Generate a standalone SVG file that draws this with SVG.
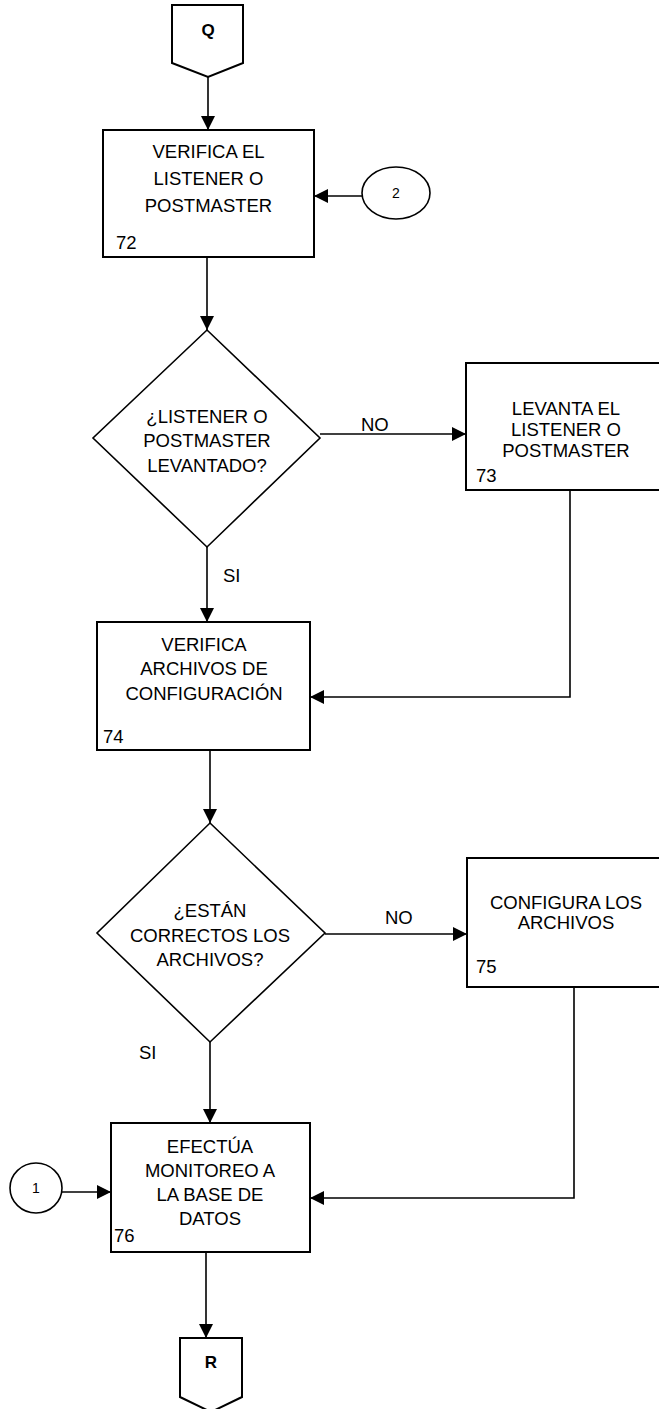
<svg xmlns="http://www.w3.org/2000/svg" width="659" height="1409" viewBox="0 0 659 1409">
  <style>
    .shape { fill: #ffffff; stroke: #000000; stroke-width: 2; }
    .dia { fill: #ffffff; stroke: #000000; stroke-width: 1.6; }
    .conn { fill: none; stroke: #000000; stroke-width: 1.6; }
    .lbl { font-family: "Liberation Sans", Arial, sans-serif; font-size: 18.5px; fill: #000000; text-anchor: middle; }
    .num { font-family: "Liberation Sans", Arial, sans-serif; font-size: 18.5px; fill: #000000; }
    .small { font-family: "Liberation Sans", Arial, sans-serif; font-size: 14px; fill: #000000; text-anchor: middle; }
    .bold { font-family: "Liberation Sans", Arial, sans-serif; font-size: 17px; font-weight: bold; fill: #000000; text-anchor: middle; }
  </style>
  <defs>
    <marker id="arrow" viewBox="0 0 10 10" refX="10" refY="5" markerWidth="14" markerHeight="14" markerUnits="userSpaceOnUse" orient="auto">
      <path d="M0,0 L10,5 L0,10 z" fill="#000000"/>
    </marker>
  </defs>
  <rect x="0" y="0" width="659" height="1409" fill="#ffffff"/>

  <g id="connectors">
    <path class="conn" d="M208,77 V130" marker-end="url(#arrow)"/>
    <path class="conn" d="M362,196 H314" marker-end="url(#arrow)"/>
    <path class="conn" d="M207,257 V330" marker-end="url(#arrow)"/>
    <path class="conn" d="M320,434 H466" marker-end="url(#arrow)"/>
    <path class="conn" d="M207,547 V622" marker-end="url(#arrow)"/>
    <path class="conn" d="M570,490 V697 H310" marker-end="url(#arrow)"/>
    <path class="conn" d="M210,750 V823" marker-end="url(#arrow)"/>
    <path class="conn" d="M325,934 H467" marker-end="url(#arrow)"/>
    <path class="conn" d="M210,1042 V1123" marker-end="url(#arrow)"/>
    <path class="conn" d="M574,987 V1198 H310" marker-end="url(#arrow)"/>
    <path class="conn" d="M62,1192 H111" marker-end="url(#arrow)"/>
    <path class="conn" d="M206,1252 V1338" marker-end="url(#arrow)"/>
    <text class="num" x="361" y="431">NO</text>
    <text class="num" x="223" y="582">SI</text>
    <text class="num" x="385" y="924">NO</text>
    <text class="num" x="139" y="1059">SI</text>
  </g>

  <g id="node-q">
    <polygon class="shape" points="172,5 243,5 243,63 208,77 172,63"/>
    <text class="bold" x="208" y="36">Q</text>
  </g>

  <g id="node-72">
    <rect class="shape" x="103" y="130" width="211" height="127"/>
    <text class="lbl" x="208.5" y="158">VERIFICA EL</text>
    <text class="lbl" x="208.5" y="185">LISTENER O</text>
    <text class="lbl" x="208.5" y="212">POSTMASTER</text>
    <text class="num" x="116" y="249">72</text>
  </g>

  <g id="node-c2">
    <ellipse class="dia" cx="396" cy="193" rx="34" ry="26"/>
    <text class="small" x="396" y="198">2</text>
  </g>

  <g id="node-d1">
    <polygon class="dia" points="207,330 320,438 207,547 93,438"/>
    <text class="lbl" x="207" y="423">¿LISTENER O</text>
    <text class="lbl" x="207" y="447">POSTMASTER</text>
    <text class="lbl" x="207" y="472">LEVANTADO?</text>
  </g>

  <g id="node-73">
    <rect class="shape" x="466" y="363" width="210" height="127"/>
    <text class="lbl" x="566" y="415">LEVANTA EL</text>
    <text class="lbl" x="566" y="436">LISTENER O</text>
    <text class="lbl" x="566" y="457">POSTMASTER</text>
    <text class="num" x="476" y="482">73</text>
  </g>

  <g id="node-74">
    <rect class="shape" x="97" y="622" width="213" height="128"/>
    <text class="lbl" x="204" y="651">VERIFICA</text>
    <text class="lbl" x="204" y="675">ARCHIVOS DE</text>
    <text class="lbl" x="204" y="700">CONFIGURACIÓN</text>
    <text class="num" x="103" y="743">74</text>
  </g>

  <g id="node-d2">
    <polygon class="dia" points="210,823 325,933 210,1042 97,933"/>
    <text class="lbl" x="210" y="917">¿ESTÁN</text>
    <text class="lbl" x="210" y="942">CORRECTOS LOS</text>
    <text class="lbl" x="210" y="966">ARCHIVOS?</text>
  </g>

  <g id="node-75">
    <rect class="shape" x="467" y="858" width="210" height="129"/>
    <text class="lbl" x="566" y="909">CONFIGURA LOS</text>
    <text class="lbl" x="566" y="929">ARCHIVOS</text>
    <text class="num" x="476" y="973">75</text>
  </g>

  <g id="node-76">
    <rect class="shape" x="111" y="1123" width="199" height="129"/>
    <text class="lbl" x="210" y="1153">EFECTÚA</text>
    <text class="lbl" x="210" y="1177">MONITOREO A</text>
    <text class="lbl" x="210" y="1201">LA BASE DE</text>
    <text class="lbl" x="210" y="1225">DATOS</text>
    <text class="num" x="114" y="1242">76</text>
  </g>

  <g id="node-c1">
    <ellipse class="dia" cx="36" cy="1188" rx="26" ry="25"/>
    <text class="small" x="36" y="1193">1</text>
  </g>

  <g id="node-r">
    <polygon class="shape" points="180,1338 242,1338 242,1397 211,1412 180,1397"/>
    <text class="bold" x="211" y="1368">R</text>
  </g>
</svg>
